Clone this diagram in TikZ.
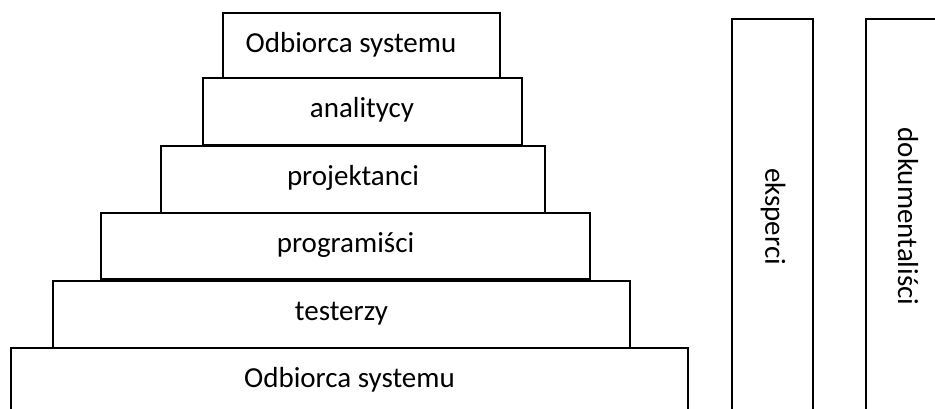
\documentclass[tikz,border=0pt]{standalone}
\usepackage{fontspec}
\setmainfont{Carlito}
\usetikzlibrary{calc, positioning}

\tikzset{
  tier/.style={draw=black, line width=1.6pt, fill=white},
  tier-text/.style={anchor=base, inner sep=0pt, font=\fontsize{29pt}{34pt}\selectfont},
  side-text/.style={rotate=-90, inner sep=0pt, font=\fontsize{29pt}{34pt}\selectfont},
}

\begin{document}
\begin{tikzpicture}[x=1pt, y=-1pt]

  \useasboundingbox (0, 0) rectangle (935, 409);
  \clip (0, 0) rectangle (935, 409);

  % pyramid, top to bottom
  \draw[tier] (223,  13) rectangle (500,  78);
  \draw[tier] (203,  78) rectangle (522, 145);
  \draw[tier] (161, 146) rectangle (545, 213);
  \draw[tier] (101, 213) rectangle (590, 279);
  \draw[tier] ( 53, 281) rectangle (630, 348);
  \draw[tier] ( 11, 348) rectangle (688, 430);

  \node[tier-text] (odbiorca-top) at (351,   53)   {Odbiorca systemu};
  \node[tier-text] (analitycy)    at (362,   117.5) {analitycy};
  \node[tier-text] (projektanci)  at (353,   185.5) {projektanci};
  \node[tier-text] (programisci)  at (345.5, 252.5) {programiści};
  \node[tier-text] (testerzy)     at (341.5, 320.5) {testerzy};
  \node[tier-text] (odbiorca-bot) at (349.5, 387)   {Odbiorca systemu};

  % side columns
  \draw[tier] (732, 19) rectangle (813, 430);
  \draw[tier] (866, 19) rectangle (950, 430);

  \node[side-text] (eksperci)       at (773, 216.5) {eksperci};
  \node[side-text] (dokumentalisci) at (908, 216.5) {dokumentaliści};

\end{tikzpicture}
\end{document}
